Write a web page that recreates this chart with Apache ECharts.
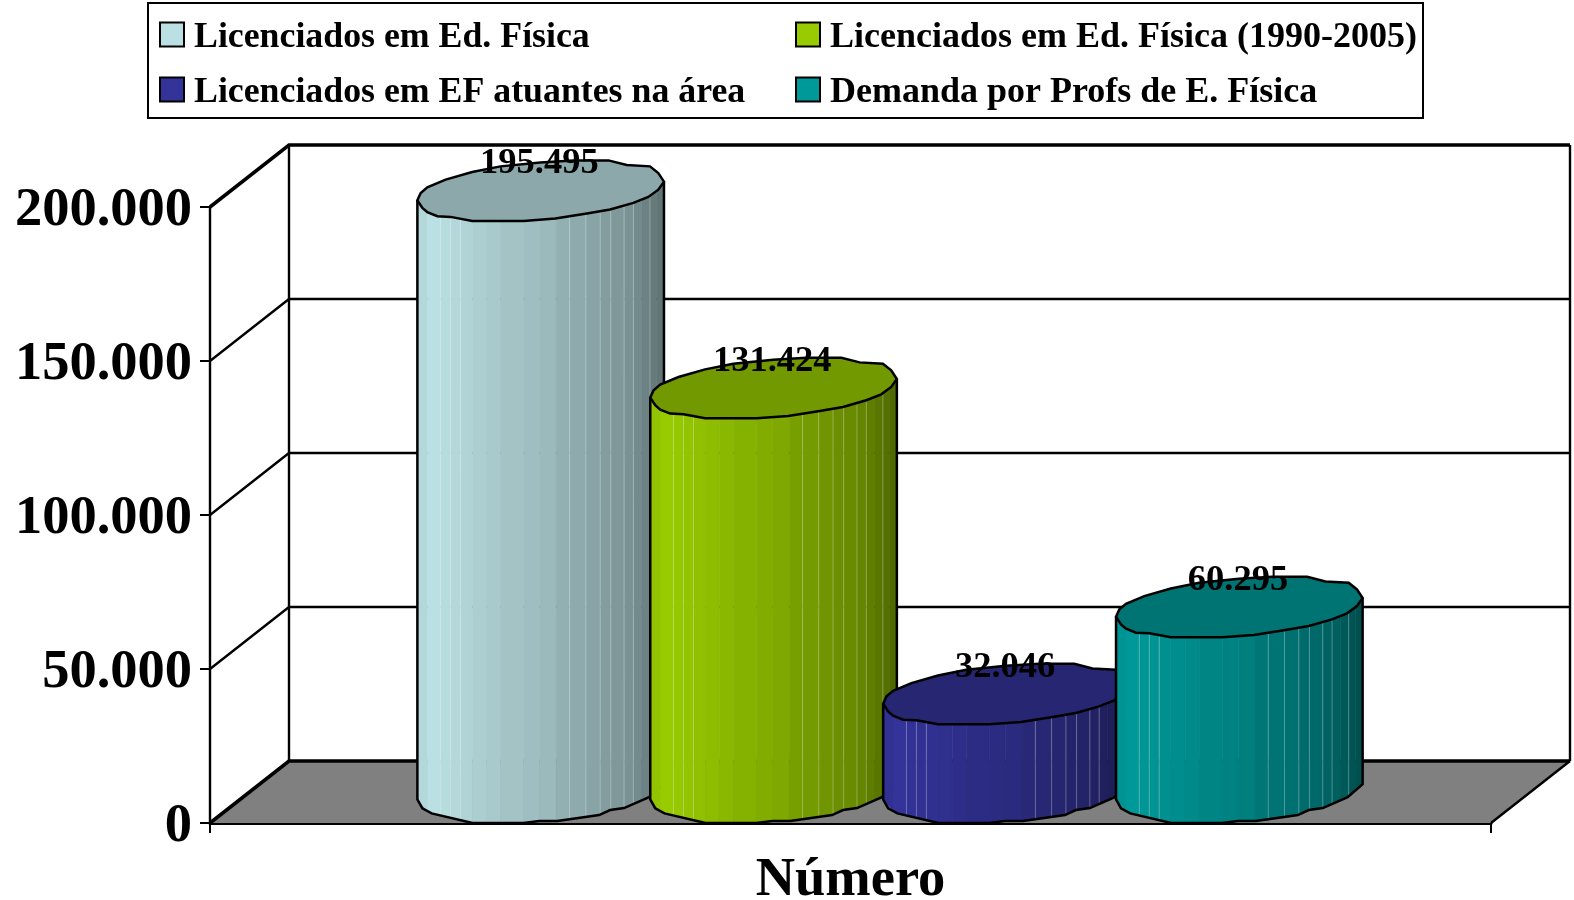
<!DOCTYPE html>
<html>
<head>
<meta charset="utf-8">
<style>html,body{margin:0;padding:0;background:#fff}#c{width:1574px;height:900px}</style>
<script src="https://cdn.jsdelivr.net/npm/echarts@6/dist/echarts.min.js"></script>
</head>
<body>
<div id="c"></div>
<script>
// ---- data ----
const categories = ['Número'];
const seriesNames = [
  'Licenciados em Ed. Física',
  'Licenciados em Ed. Física (1990-2005)',
  'Licenciados em EF atuantes na área',
  'Demanda por Profs de E. Física'
];
const seriesValues = [195495, 131424, 32046, 60295];
const seriesColors = ['#BBE0E3', '#99CC00', '#333399', '#009999'];
const tickValues = [0, 50000, 100000, 150000, 200000];

// ---- 3D look (styling only) ----
const FONT = '"Liberation Serif", serif';
const DEPTH_X = 79, DEPTH_Y = -62;
const CYL_W = 0.1925, CYL_STEP = 0.1818;
const fmt = v => String(v).replace(/\B(?=(\d{3})+$)/g, '.');

// outline of the faceted top, [x, y] measured on a 742-wide drawing, y down, front edge at 244
const topBack = [[50,182],[60,160],[80,143],[135,120],[215,97],[300,80],[420,68],[520,62],[625,62],[680,76],[750,80],[775,100],[792,126]];
const topFront = [[50,182],[65,205],[80,218],[110,230],[150,232],[215,244],[370,244],[465,237],[560,222],[630,210],[700,190],[745,172],[775,150],[792,126]];
const botFront = [[50,173],[65,200],[93,215],[216,244],[369,244],[417,238],[471,238],[597,220],[630,205],[672,199],[747,166],[792,127]];
const facetX = [50,80,120,150,180,215,258,300,370,418,468,508,557,600,632,672,700,725,750,770,792];
const facetShade = [.96,1,.98,.96,.94,.92,.9,.87,.85,.83,.78,.76,.73,.7,.68,.65,.62,.58,.55,.52];
const hairlineX = [120,150,180,508,557,600,632,672,700,750];

function curveAt(pts, x) {
  for (let i = 1; i < pts.length; i++) {
    if (x <= pts[i][0]) {
      const t = (x - pts[i-1][0]) / (pts[i][0] - pts[i-1][0]);
      return pts[i-1][1] + t * (pts[i][1] - pts[i-1][1]);
    }
  }
  return pts[pts.length-1][1];
}
function shade(hex, f) {
  const n = parseInt(hex.slice(1), 16);
  const c = s => Math.round(((n >> s) & 255) * f);
  return 'rgb(' + c(16) + ',' + c(8) + ',' + c(0) + ')';
}

function renderCylinder(idx) {
  return function (params, api) {
    const base = api.coord([api.value(0), 0]);
    const top = api.coord([api.value(0), api.value(1)]);
    const band = api.size([1, 0])[0];
    const w = band * CYL_W;
    const left = base[0] + DEPTH_X * 0.5 + (idx - 1.5) * band * CYL_STEP - w / 2;
    const k = w / 742;
    const X = x => left + (x - 50) * k;
    const TY = y => top[1] + (y - 244) * k;
    const BY = y => base[1] + (y - 244) * k;
    const color = seriesColors[idx];
    const children = [];
    for (let i = 0; i < facetShade.length; i++) {
      const a = facetX[i], b = facetX[i+1];
      const fill = shade(color, facetShade[i]);
      children.push({
        type: 'polygon',
        shape: { points: [
          [X(a), TY(curveAt(topFront, a))], [X(b), TY(curveAt(topFront, b))],
          [X(b), BY(curveAt(botFront, b))], [X(a), BY(curveAt(botFront, a))]
        ]},
        style: { fill: fill, stroke: fill, lineWidth: 0.6 }
      });
    }
    hairlineX.forEach(x => children.push({
      type: 'line',
      shape: { x1: X(x), y1: TY(curveAt(topFront, x)), x2: X(x), y2: BY(curveAt(botFront, x)) },
      style: { stroke: 'rgba(255,255,255,0.3)', lineWidth: 1 }
    }));
    const bodyPts = [[X(50), TY(182)]]
      .concat(botFront.map(p => [X(p[0]), BY(p[1])]))
      .concat([[X(792), TY(126)]]);
    children.push({
      type: 'polyline',
      shape: { points: bodyPts },
      style: { fill: null, stroke: '#000', lineWidth: 2.5 }
    });
    const topPts = topBack.concat(topFront.slice(1, -1).reverse()).map(p => [X(p[0]), TY(p[1])]);
    children.push({
      type: 'polygon',
      shape: { points: topPts },
      style: { fill: shade(color, 0.75), stroke: '#000', lineWidth: 2.5 }
    });
    children.push({
      type: 'text',
      style: {
        x: X(417), y: top[1] - 57,
        text: fmt(api.value(1)),
        font: 'bold 36.5px ' + FONT,
        fill: '#000', align: 'center', verticalAlign: 'middle'
      }
    });
    return { type: 'group', children: children };
  };
}

function renderFrame(params, api) {
  const band = api.size([1, 0])[0];
  const c0 = api.coord([0, 0]);
  const xL = c0[0] - band / 2, xR = c0[0] + band / 2;
  const y0 = c0[1];
  const children = [];
  children.push({
    type: 'polygon',
    shape: { points: [[xL, y0], [xL + DEPTH_X, y0 + DEPTH_Y], [xR + DEPTH_X, y0 + DEPTH_Y], [xR, y0]] },
    style: { fill: '#808080', stroke: null }
  });
  tickValues.forEach((t, i) => {
    const y = api.coord([0, t])[1];
    const lw = (i === 0 || i === tickValues.length - 1) ? 3.5 : 2.4;
    children.push({
      type: 'polyline',
      shape: { points: [[xL, y], [xL + DEPTH_X, y + DEPTH_Y], [xR + DEPTH_X, y + DEPTH_Y]] },
      style: { fill: null, stroke: '#000', lineWidth: lw }
    });
  });
  const yT = api.coord([0, tickValues[tickValues.length - 1]])[1];
  children.push({ type: 'line', shape: { x1: xL + DEPTH_X, y1: yT + DEPTH_Y, x2: xL + DEPTH_X, y2: y0 + DEPTH_Y }, style: { stroke: '#000', lineWidth: 2.4 } });
  children.push({ type: 'line', shape: { x1: xR + DEPTH_X, y1: yT + DEPTH_Y, x2: xR + DEPTH_X, y2: y0 + DEPTH_Y }, style: { stroke: '#000', lineWidth: 2.4 } });
  children.push({ type: 'line', shape: { x1: xR, y1: y0, x2: xR + DEPTH_X, y2: y0 + DEPTH_Y }, style: { stroke: '#000', lineWidth: 2.4 } });
  return { type: 'group', children: children };
}

const legendText = size => ({
  rich: { a: { fontFamily: FONT, fontWeight: 'bold', fontSize: size, color: '#000', padding: [7, 0, 0, 5], height: 24 } }
});
const legendBase = {
  orient: 'vertical', top: 20, itemWidth: 24, itemHeight: 24, itemGap: 19,
  icon: 'rect', padding: 0, selectedMode: false,
  formatter: '{a|{name}}',
  itemStyle: { borderColor: '#000', borderWidth: 2 }
};

const chart = echarts.init(document.getElementById('c'), null, { renderer: 'canvas' });
chart.setOption({
  animation: false,
  backgroundColor: '#fff',
  grid: { left: 210, right: 83, top: 207, bottom: 77, containLabel: false, outerBoundsMode: 'none' },
  legend: [
    Object.assign({}, legendBase, { left: 159, textStyle: legendText(35.8), data: [seriesNames[0], seriesNames[2]] }),
    Object.assign({}, legendBase, { left: 795, textStyle: legendText(36), data: [seriesNames[1], seriesNames[3]] })
  ],
  graphic: [{
    type: 'rect', left: 147, top: 2, z: -1,
    shape: { width: 1275, height: 115 },
    style: { fill: '#fff', stroke: '#000', lineWidth: 2 }
  }],
  xAxis: {
    type: 'category', data: categories,
    axisLine: { show: true, lineStyle: { color: '#000', width: 3 } },
    axisTick: { show: true, length: 10, lineStyle: { color: '#000', width: 2 } },
    axisLabel: { fontFamily: FONT, fontWeight: 'bold', fontSize: 54.5, color: '#000', margin: 30 },
    splitLine: { show: false }
  },
  yAxis: {
    type: 'value', min: 0, max: 200000, interval: 50000,
    axisLine: { show: true, lineStyle: { color: '#000', width: 2.4 } },
    axisTick: { show: true, length: 10, lineStyle: { color: '#000', width: 2 } },
    axisLabel: {
      margin: 18, formatter: v => '{a|' + fmt(v) + '}',
      rich: { a: { fontFamily: FONT, fontWeight: 'bold', fontSize: 54.5, color: '#000', padding: [8, 0, 0, 0] } }
    },
    splitLine: { show: false }
  },
  series: [{
    type: 'custom', name: 'frame', z: 1, silent: true,
    data: [[0, 0]], encode: { x: 0, y: 1 }, renderItem: renderFrame
  }].concat(seriesNames.map((name, i) => ({
    type: 'custom', name: name, z: 3 + i,
    itemStyle: { color: seriesColors[i] },
    data: [[0, seriesValues[i]]], encode: { x: 0, y: 1 },
    renderItem: renderCylinder(i)
  })))
});
</script>
</body>
</html>
